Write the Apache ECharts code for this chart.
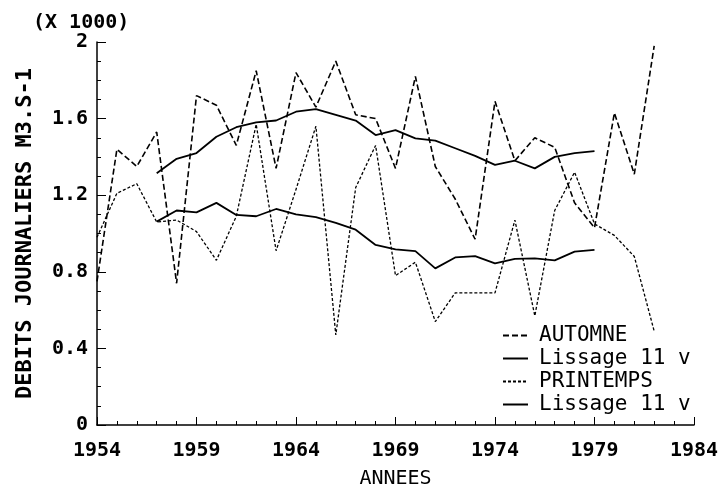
<!DOCTYPE html>
<html><head><meta charset="utf-8">
<script src="https://cdn.jsdelivr.net/npm/echarts@6/dist/echarts.min.js"></script>
<style>html,body{margin:0;padding:0;background:#fff}#c{width:725px;height:489px}</style>
</head><body><div id="c"></div>
<script>
const years = [1954,1955,1956,1957,1958,1959,1960,1961,1962,1963,1964,1965,1966,1967,1968,1969,1970,1971,1972,1973,1974,1975,1976,1977,1978,1979,1980,1981,1982];
const automne = [0.75,1.44,1.35,1.53,0.74,1.72,1.67,1.46,1.85,1.34,1.84,1.66,1.90,1.62,1.60,1.34,1.82,1.35,1.18,0.97,1.69,1.38,1.50,1.45,1.16,1.03,1.63,1.31,1.98];
const printemps = [0.98,1.21,1.26,1.06,1.07,1.01,0.86,1.09,1.57,0.91,1.23,1.56,0.47,1.24,1.46,0.78,0.85,0.54,0.69,0.69,0.69,1.07,0.57,1.12,1.32,1.05,0.99,0.88,0.49];
const lissageYears = [1957,1958,1959,1960,1961,1962,1963,1964,1965,1966,1967,1968,1969,1970,1971,1972,1973,1974,1975,1976,1977,1978,1979];
const lissageAutomne = [1.315,1.39,1.42,1.505,1.555,1.58,1.59,1.636,1.65,1.62,1.59,1.514,1.54,1.497,1.485,1.445,1.405,1.358,1.38,1.34,1.40,1.42,1.43];
const lissagePrintemps = [1.062,1.12,1.11,1.16,1.097,1.09,1.128,1.10,1.085,1.056,1.02,0.94,0.917,0.908,0.818,0.875,0.882,0.844,0.868,0.87,0.86,0.905,0.914];
const legendNames = ['AUTOMNE','Lissage 11 v','PRINTEMPS','Lissage 11 v'];

const FONT = 'DejaVu Sans Mono';
const pairs = (xs, ys) => xs.map((x, i) => [x, ys[i]]);

const chart = echarts.init(document.getElementById('c'), null, {renderer: 'canvas'});
const seriesIds = ['automne','lissA','printemps','lissP'];
chart.setOption({
  animation: false,
  backgroundColor: '#fff',
  title: {
    text: '(X 1000)', left: 28, top: 8,
    textStyle: {fontFamily: FONT, fontSize: 20, fontWeight: 'bold', color: '#000'}
  },
  grid: {left: 97, right: 31, top: 42, bottom: 64, outerBoundsMode: 'none', containLabel: false},
  legend: {
    orient: 'vertical', left: 497, top: 320,
    itemWidth: 25, itemHeight: 14, itemGap: 2,
    data: seriesIds,
    formatter: name => legendNames[seriesIds.indexOf(name)],
    textStyle: {fontFamily: FONT, fontSize: 21, color: '#000', padding: [0, 0, 0, 6]},
    itemStyle: {color: 'transparent', borderWidth: 0, opacity: 0},
    inactiveColor: '#000'
  },
  xAxis: {
    type: 'value', min: 1954, max: 1984, interval: 5,
    name: 'ANNEES', nameLocation: 'middle', nameGap: 44,
    nameTextStyle: {fontFamily: FONT, fontSize: 20, color: '#000'},
    axisLine: {lineStyle: {color: '#000', width: 1.5}},
    axisTick: {inside: true, length: 8, lineStyle: {color: '#000'}},
    minorTick: {show: true, splitNumber: 5, length: 4, lineStyle: {color: '#000'}},
    splitLine: {show: false},
    axisLabel: {fontFamily: FONT, fontSize: 20, fontWeight: 'bold', color: '#000', margin: 16,
      formatter: v => String(v)}
  },
  yAxis: {
    type: 'value', min: 0, max: 2, interval: 0.4,
    name: 'DEBITS JOURNALIERS M3.S-1', nameLocation: 'middle', nameGap: 61, nameRotate: 90,
    nameTextStyle: {fontFamily: FONT, fontSize: 22, fontWeight: 'bold', color: '#000'},
    axisLine: {show: true, lineStyle: {color: '#000', width: 1.5}},
    axisTick: {show: true, inside: true, length: 9, lineStyle: {color: '#000'}},
    minorTick: {show: true, splitNumber: 4, length: 4, lineStyle: {color: '#000'}},
    splitLine: {show: false},
    axisLabel: {fontFamily: FONT, fontSize: 20, fontWeight: 'bold', color: '#000', margin: 9,
      formatter: v => String(+v.toFixed(1))}
  },
  series: [
    {id: 'automne', name: 'automne', type: 'line', symbol: 'none', data: pairs(years, automne),
     lineStyle: {color: '#000', width: 1.6, type: [6, 3]}, itemStyle: {color: '#000'}},
    {id: 'lissA', name: 'lissA', type: 'line', symbol: 'none', data: pairs(lissageYears, lissageAutomne),
     lineStyle: {color: '#000', width: 1.8, type: 'solid'}, itemStyle: {color: '#000'}},
    {id: 'printemps', name: 'printemps', type: 'line', symbol: 'none', data: pairs(years, printemps),
     lineStyle: {color: '#000', width: 1.3, type: [3, 2]}, itemStyle: {color: '#000'}},
    {id: 'lissP', name: 'lissP', type: 'line', symbol: 'none', data: pairs(lissageYears, lissagePrintemps),
     lineStyle: {color: '#000', width: 1.8, type: 'solid'}, itemStyle: {color: '#000'}}
  ]
});
</script></body></html>
